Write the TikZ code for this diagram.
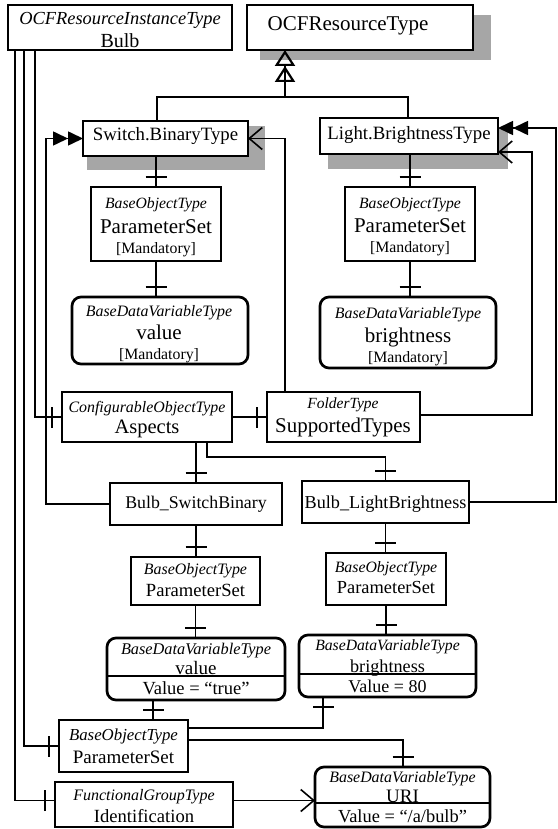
\documentclass[tikz,border=0pt]{standalone}
\usepackage{fontspec}
\setmainfont{Liberation Serif}
\usetikzlibrary{arrows.meta,decorations.markings}
\definecolor{shd}{RGB}{166,166,166}
\newcommand\tyf[1]{\fontsize{#1}{#1}\selectfont\itshape}
\newcommand\nmf[1]{\fontsize{#1}{#1}\selectfont}
\begin{document}
\begin{tikzpicture}[x=1pt,y=-1pt,
 box/.style={draw, line width=2.7pt, fill=white, inner sep=0pt, outer sep=0pt},
 rbox/.style={box, rounded corners=9pt},
 lbl/.style={anchor=base, inner sep=0pt, outer sep=0pt},
 wire/.style={line width=1.6pt},
 hc/.style={wire, postaction={decorate}, decoration={markings, mark=at position -10pt with {\draw[line width=1.6pt] (0pt,-10.5pt) -- (0pt,10.5pt);}}},
 orga/.style={wire, -{Straight Barb[length=13pt,width=22pt]}},
 htd/.style={wire, -{Triangle[length=15pt,width=14pt] Triangle[length=15pt,width=14pt]}},
 gen/.style={line width=2.2pt, -{Triangle[open,length=16pt,width=20pt] Triangle[open,length=16pt,width=20pt]}},
]
\useasboundingbox (0,0) rectangle (557,829);
% shadows
\fill[shd] (260,15) rectangle (491,60);
\fill[shd] (87,126) rectangle (265,170);
\fill[shd] (328,128) rectangle (508,169);
% boxes
\node[box, minimum width=224pt, minimum height=45pt] (bulb) at (120,27.5) {};
\node[box, minimum width=226pt, minimum height=45pt] (ocf) at (360,27.5) {};
\node[box, minimum width=165pt, minimum height=35pt] (sw) at (165.5,138.5) {};
\node[box, minimum width=178pt, minimum height=36pt] (lt) at (409,136) {};
\node[box, minimum width=130pt, minimum height=74pt] (psA) at (156,224) {};
\node[box, minimum width=130pt, minimum height=74pt] (psB) at (410,224) {};
\node[rbox, minimum width=176pt, minimum height=67pt] (valA) at (160,330.5) {};
\node[rbox, minimum width=176pt, minimum height=71pt] (brA) at (408,332.5) {};
\node[box, minimum width=170pt, minimum height=50pt] (asp) at (147,417) {};
\node[box, minimum width=153pt, minimum height=50pt] (sup) at (343.5,417) {};
\node[box, line width=2pt, minimum width=172pt, minimum height=42pt] (bsb) at (196,504) {};
\node[box, line width=2pt, minimum width=167pt, minimum height=42pt] (blb) at (385.5,502) {};
\node[box, minimum width=129pt, minimum height=48pt] (psC) at (195.5,581) {};
\node[box, minimum width=120pt, minimum height=52pt] (psD) at (386,579) {};
\node[rbox, minimum width=178pt, minimum height=62pt] (valB) at (196,669) {};
\node[rbox, minimum width=177pt, minimum height=62pt] (brB) at (387.5,666) {};
\node[box, minimum width=129pt, minimum height=52pt] (psE) at (123.5,746) {};
\node[box, minimum width=178pt, minimum height=45pt] (idf) at (144,804.5) {};
\node[rbox, minimum width=175pt, minimum height=60pt] (uri) at (402.5,797) {};
% dividers
\draw[line width=1.5pt] (valB.west |- 0,676) -- (valB.east |- 0,676);
\draw[line width=1.5pt] (brB.west |- 0,674) -- (brB.east |- 0,674);
\draw[line width=1.5pt] (uri.west |- 0,803) -- (uri.east |- 0,803);
% texts
\node[lbl, font=\tyf{18.4}] (tBulb1) at (120,25) {OCFResourceInstanceType};
\node[lbl, font=\nmf{20}] (tBulb2) at (120,48) {Bulb};
\node[lbl, font=\nmf{21}] (tOcf) at (348,31) {OCFResourceType};
\node[lbl, font=\nmf{18.8}] (tSw) at (165.5,141) {Switch.BinaryType};
\node[lbl, font=\nmf{18.8}] (tLt) at (409,140) {Light.BrightnessType};
\node[lbl, font=\tyf{15.7}] (tPsA1) at (156,208) {BaseObjectType};
\node[lbl, font=\nmf{21}] (tPsA2) at (156,233) {ParameterSet};
\node[lbl, font=\nmf{15.8}] (tPsA3) at (156,253) {[Mandatory]};
\node[lbl, font=\tyf{15.7}] (tPsB1) at (410,208) {BaseObjectType};
\node[lbl, font=\nmf{21}] (tPsB2) at (410,232) {ParameterSet};
\node[lbl, font=\nmf{15.8}] (tPsB3) at (410,252) {[Mandatory]};
\node[lbl, font=\tyf{15.9}] (tValA1) at (159,316) {BaseDataVariableType};
\node[lbl, font=\nmf{21}] (tValA2) at (159,339) {value};
\node[lbl, font=\nmf{15.8}] (tValA3) at (159,359) {[Mandatory]};
\node[lbl, font=\tyf{15.9}] (tBrA1) at (408,318) {BaseDataVariableType};
\node[lbl, font=\nmf{21}] (tBrA2) at (408,342) {brightness};
\node[lbl, font=\nmf{15.8}] (tBrA3) at (408,362) {[Mandatory]};
\node[lbl, font=\tyf{15.9}] (tAsp1) at (147,412) {ConfigurableObjectType};
\node[lbl, font=\nmf{20.5}] (tAsp2) at (147,433) {Aspects};
\node[lbl, font=\tyf{15.5}] (tSup1) at (343,408) {FolderType};
\node[lbl, font=\nmf{20.9}] (tSup2) at (343,432) {SupportedTypes};
\node[lbl, font=\nmf{17.8}] (tBsb) at (196,508) {Bulb\_SwitchBinary};
\node[lbl, font=\nmf{18.2}] (tBlb) at (385.5,508) {Bulb\_LightBrightness};
\node[lbl, font=\tyf{15.9}] (tPsC1) at (195.5,574) {BaseObjectType};
\node[lbl, font=\nmf{18.6}] (tPsC2) at (195.5,596) {ParameterSet};
\node[lbl, font=\tyf{15.8}] (tPsD1) at (386,572) {BaseObjectType};
\node[lbl, font=\nmf{18.4}] (tPsD2) at (386,593) {ParameterSet};
\node[lbl, font=\tyf{16.3}] (tValB1) at (196,654) {BaseDataVariableType};
\node[lbl, font=\nmf{19}] (tValB2) at (196,674) {value};
\node[lbl, font=\nmf{18.5}] (tValB3) at (196,694) {Value = “true”};
\node[lbl, font=\tyf{15.7}] (tBrB1) at (387.5,650) {BaseDataVariableType};
\node[lbl, font=\nmf{18.2}] (tBrB2) at (387.5,672) {brightness};
\node[lbl, font=\nmf{18}] (tBrB3) at (387.5,692) {Value = 80};
\node[lbl, font=\tyf{16.8}] (tPsE1) at (123.5,740) {BaseObjectType};
\node[lbl, font=\nmf{19}] (tPsE2) at (123.5,763) {ParameterSet};
\node[lbl, font=\tyf{16}] (tIdf1) at (144,800) {FunctionalGroupType};
\node[lbl, font=\nmf{18.6}] (tIdf2) at (144,822) {Identification};
\node[lbl, font=\tyf{15.9}] (tUri1) at (402.5,782) {BaseDataVariableType};
\node[lbl, font=\nmf{19}] (tUri2) at (402.5,802) {URI};
\node[lbl, font=\nmf{18.4}] (tUri3) at (402.5,822) {Value = “/a/bulb”};
% junction coordinates
\coordinate (j1) at (207,457);
\coordinate (j2) at (532,152);
\coordinate (j3) at (46,138.5);
\coordinate (j4) at (556,128);
\coordinate (j5) at (285,97);
% component references
\draw[hc] (bulb.south -| 35,0) |- (asp.west);
\draw[hc] (bulb.south -| 24,0) |- (psE.west);
\draw[hc] (bulb.south -| 15,0) |- ([yshift=4pt]idf.west);
\draw[hc] (sw.south -| psA.north) -- (psA.north);
\draw[hc] (psA.south) -- (psA.south |- valA.north);
\draw[hc] (lt.south -| psB.north) -- (psB.north);
\draw[hc] (psB.south) -- (psB.south |- brA.north);
\draw[hc] (asp.east) -- (sup.west);
\draw[hc] (asp.south -| bsb.north) -- (bsb.north);
\draw[hc] (asp.south -| j1) -- (j1) -| (blb.north);
\draw[hc] (bsb.south) -- (bsb.south |- psC.north);
\draw[hc] (blb.south) -- (blb.south |- psD.north);
\draw[hc] (psC.south) -- (psC.south |- valB.north);
\draw[hc] (psD.south) -- (psD.south |- brB.north);
\draw[hc] (psE.north -| 153,0) -- (valB.south -| 153,0);
\draw[hc] ([yshift=18pt]psE.east) -| (brB.south -| 323,0);
\draw[hc] ([yshift=6pt]psE.east) -| (uri.north -| 403,0);
% organizes
\draw[orga] (sup.north -| 285,0) |- (sw.east);
\draw[orga] ([yshift=2pt]sup.east) -| (j2) -- (j2 -| lt.east);
\draw[orga] ([yshift=4pt]idf.east) -- ([yshift=4pt]idf.east -| uri.west);
% type definitions
\draw[htd] (bsb.west) -| (j3) -- (sw.west);
\draw[htd] (blb.east) -| (j4) -- (j4 -| lt.east);
% subtypes
\draw[line width=1.6pt] (sw.north -| 157,0) |- (j5) -| (lt.north -| 408,0);
\draw[gen] (j5) -- (ocf.south -| j5);
\end{tikzpicture}
\end{document}
